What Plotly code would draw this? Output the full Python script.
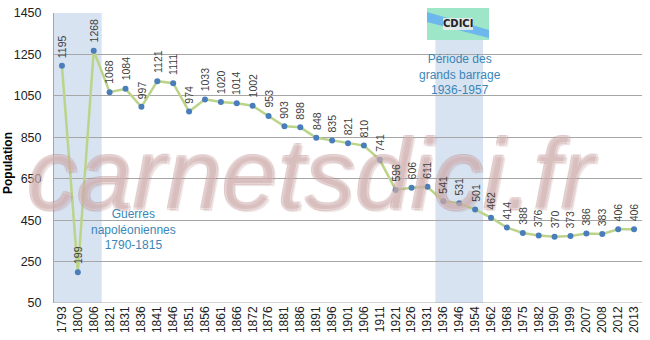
import plotly.graph_objects as go

years = ["1793","1800","1806","1821","1831","1836","1841","1846","1851","1856","1861","1866",
         "1872","1876","1881","1886","1891","1896","1901","1906","1911","1921","1926","1931",
         "1936","1946","1954","1962","1968","1975","1982","1990","1999","2007","2008","2012","2013"]
population = [1195,199,1268,1068,1084,997,1121,1111,974,1033,1020,1014,1002,953,903,898,848,835,
              821,810,741,596,606,611,541,531,501,462,414,388,376,370,373,386,383,406,406]
y_ticks = [50,250,450,650,850,1050,1250,1450]

L, R, T, B = 54, 8, 13, 37
PW, PH = 650 - L - R, 340 - T - B

def px(x):
    return (x - L) / PW

def py(y):
    return 1 - (y - T) / PH

fig = go.Figure()
fig.add_trace(go.Scatter(
    x=list(range(len(years))), y=population, mode="lines+markers",
    line=dict(color="#bcd48a", width=2.5),
    marker=dict(color="#4a7ebb", size=6),
    hoverinfo="skip", showlegend=False))

shapes = [
    dict(type="rect", xref="x", yref="paper", x0=-0.5, x1=2.5, y0=0, y1=1,
         fillcolor="rgba(190,208,232,0.6)", line=dict(width=0), layer="below"),
    dict(type="rect", xref="x", yref="paper", x0=23.5, x1=26.5, y0=0, y1=1,
         fillcolor="rgba(190,208,232,0.6)", line=dict(width=0), layer="below"),
]

oc = "rgba(170,115,115,0.6)"
annotations = [
    dict(x=px(312), y=py(174), xref="paper", yref="paper", showarrow=False, xanchor="center",
         yanchor="middle", text="carnetsdici.fr",
         font=dict(family="Liberation Sans", size=100, style="italic",
                   color="rgba(245,235,235,0.35)",
                   shadow=f"-1px -1px 0 {oc}, 1px -1px 0 {oc}, -1px 1px 0 {oc}, 2px 2px 1px {oc}")),
    dict(x=px(8), y=py(163), xref="paper", yref="paper", showarrow=False, textangle=-90,
         xanchor="center", yanchor="middle", text="<b>Population</b>",
         font=dict(family="Liberation Sans", size=12, color="#000")),
]
for i, v in enumerate(population):
    annotations.append(dict(x=i, y=v, xref="x", yref="y", text=str(v), textangle=-90,
                            showarrow=False, yanchor="bottom", xanchor="center", yshift=6,
                            font=dict(family="Liberation Sans", size=10.5, color="#404040")))

annotations += [
    dict(x=0.135, y=0.255, xref="paper", yref="paper", showarrow=False,
         xanchor="center", yanchor="middle",
         text="Guerres<br>napoléoniennes<br>1790-1815",
         font=dict(family="Liberation Sans", size=12, color="#3a86b8")),
    dict(x=px(460), y=py(74), xref="paper", yref="paper", showarrow=False,
         xanchor="center", yanchor="middle",
         text="Période des<br>grands barrage<br>1936-1957",
         font=dict(family="Liberation Sans", size=12, color="#3a86b8")),
]

fig.update_layout(
    width=650, height=340,
    margin=dict(l=L, r=R, t=T, b=B),
    paper_bgcolor="white", plot_bgcolor="white",
    shapes=shapes, annotations=annotations,
    xaxis=dict(tickmode="array", tickvals=list(range(len(years))), ticktext=years,
               tickangle=-90, range=[-0.5, len(years)-0.5], automargin=False,
               showgrid=False, zeroline=False, showline=False,
               tickfont=dict(family="Liberation Sans", size=12, color="#222"), ticks=""),
    yaxis=dict(range=[50,1450], tickvals=y_ticks, showgrid=True, gridcolor="#a6a6a6",
               gridwidth=1, zeroline=False, showline=True, linecolor="#a6a6a6",
               automargin=False, ticklabelstandoff=9,
               tickfont=dict(family="Liberation Sans", size=12.5, color="#222"), ticks=""),
)
fig.add_hline(y=50, line=dict(color="#a6a6a6", width=1))

# logo
fig.add_shape(type="rect", xref="paper", yref="paper", x0=px(427), x1=px(489),
              y0=py(40), y1=py(8), fillcolor="#9ee6c8", line=dict(width=0))
fig.add_shape(type="path", xref="paper", yref="paper",
              path="M {a},{b} L {c},{d} L {c},{e} L {a},{f} Z".format(
                  a=px(427), b=py(12), c=px(489), d=py(30), e=py(38), f=py(22)),
              fillcolor="#6cb8ec", line=dict(width=0))
fig.add_shape(type="rect", xref="paper", yref="paper", x0=px(443), x1=px(473),
              y0=py(30), y1=py(18), fillcolor="rgba(235,235,235,0.9)", line=dict(width=0))
fig.add_annotation(x=px(458), y=py(24), xref="paper", yref="paper", showarrow=False,
                   xanchor="center", yanchor="middle",
                   text="<b>CDICI</b>", font=dict(family="DejaVu Sans", size=10, color="#222"))

fig.write_html("out.html")
